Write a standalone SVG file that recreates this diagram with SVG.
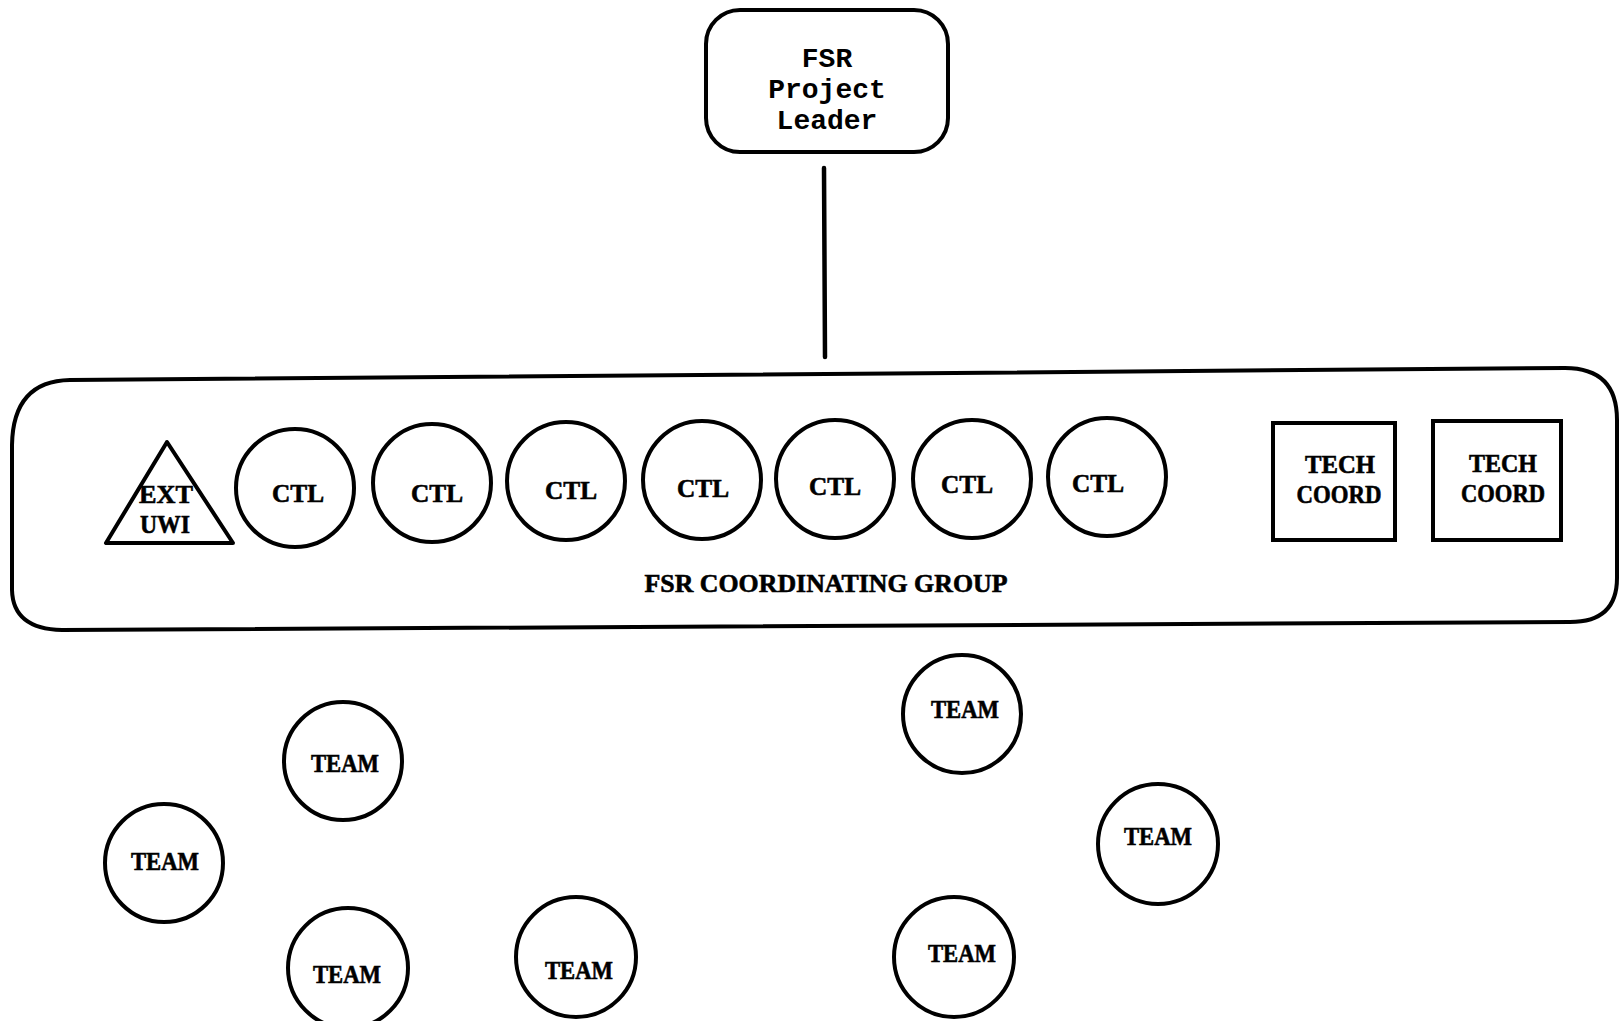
<svg xmlns="http://www.w3.org/2000/svg" width="1619" height="1021" viewBox="0 0 1619 1021">
<style>
.shape{fill:none;stroke:#000;stroke-width:4}
.mono{font-family:"Liberation Mono","Courier New",monospace;font-weight:bold;font-size:28px;fill:#000;text-anchor:middle}
.serif{font-family:"Liberation Serif","Times New Roman",serif;font-weight:bold;font-size:26px;fill:#000;stroke:#000;stroke-width:0.6;text-anchor:middle}
</style>
<rect width="1619" height="1021" fill="#fff"/>
<g id="connectors">
<line x1="824" y1="168" x2="825" y2="357" stroke="#000" stroke-width="4.5" stroke-linecap="round"/>
</g>
<g id="leader">
<rect class="shape" x="706" y="10" width="242" height="142" rx="34"/>
<text class="mono" x="827" y="67">FSR</text>
<text class="mono" x="827" y="98">Project</text>
<text class="mono" x="827" y="129">Leader</text>
</g>
<g id="coordinating-group">
<path class="shape" d="M70,380 L1565,368 Q1617,368 1617,420 L1617,578 Q1617,622 1570,622 L62,630 Q13,629 12,590 L12,445 Q13,381 70,380 Z"/>
<text class="serif" x="826" y="592" textLength="363" lengthAdjust="spacingAndGlyphs">FSR COORDINATING GROUP</text>
</g>
<g id="ext-uwi">
<polygon class="shape" points="167,442 106,543 233,543" stroke-linejoin="round"/>
<text class="serif" x="166" y="503" textLength="54" lengthAdjust="spacingAndGlyphs">EXT</text>
<text class="serif" x="165" y="533" textLength="50" lengthAdjust="spacingAndGlyphs">UWI</text>
</g>
<g id="ctl-1"><circle class="shape" cx="295" cy="488" r="59"/><text class="serif" x="298" y="502" textLength="52" lengthAdjust="spacingAndGlyphs">CTL</text></g>
<g id="ctl-2"><circle class="shape" cx="432" cy="483" r="59"/><text class="serif" x="437" y="502" textLength="52" lengthAdjust="spacingAndGlyphs">CTL</text></g>
<g id="ctl-3"><circle class="shape" cx="566" cy="481" r="59"/><text class="serif" x="571" y="499" textLength="52" lengthAdjust="spacingAndGlyphs">CTL</text></g>
<g id="ctl-4"><circle class="shape" cx="702" cy="480" r="59"/><text class="serif" x="703" y="497" textLength="52" lengthAdjust="spacingAndGlyphs">CTL</text></g>
<g id="ctl-5"><circle class="shape" cx="835" cy="479" r="59"/><text class="serif" x="835" y="495" textLength="52" lengthAdjust="spacingAndGlyphs">CTL</text></g>
<g id="ctl-6"><circle class="shape" cx="972" cy="479" r="59"/><text class="serif" x="967" y="493" textLength="52" lengthAdjust="spacingAndGlyphs">CTL</text></g>
<g id="ctl-7"><circle class="shape" cx="1107" cy="477" r="59"/><text class="serif" x="1098" y="492" textLength="52" lengthAdjust="spacingAndGlyphs">CTL</text></g>
<g id="tech-coord-1">
<rect class="shape" x="1273" y="423" width="122" height="117"/>
<text class="serif" x="1340" y="473" textLength="70" lengthAdjust="spacingAndGlyphs">TECH</text>
<text class="serif" x="1339" y="503" textLength="85" lengthAdjust="spacingAndGlyphs">COORD</text>
</g>
<g id="tech-coord-2">
<rect class="shape" x="1433" y="421" width="128" height="119"/>
<text class="serif" x="1503" y="472" textLength="68" lengthAdjust="spacingAndGlyphs">TECH</text>
<text class="serif" x="1503" y="502" textLength="84" lengthAdjust="spacingAndGlyphs">COORD</text>
</g>
<g id="team-1"><circle class="shape" cx="343" cy="761" r="59"/><text class="serif" x="345" y="772" textLength="68" lengthAdjust="spacingAndGlyphs">TEAM</text></g>
<g id="team-2"><circle class="shape" cx="164" cy="863" r="59"/><text class="serif" x="165" y="870" textLength="68" lengthAdjust="spacingAndGlyphs">TEAM</text></g>
<g id="team-3"><circle class="shape" cx="348" cy="968" r="60"/><text class="serif" x="347" y="983" textLength="68" lengthAdjust="spacingAndGlyphs">TEAM</text></g>
<g id="team-4"><circle class="shape" cx="576" cy="957" r="60"/><text class="serif" x="579" y="979" textLength="68" lengthAdjust="spacingAndGlyphs">TEAM</text></g>
<g id="team-5"><circle class="shape" cx="962" cy="714" r="59"/><text class="serif" x="965" y="718" textLength="68" lengthAdjust="spacingAndGlyphs">TEAM</text></g>
<g id="team-6"><circle class="shape" cx="1158" cy="844" r="60"/><text class="serif" x="1158" y="845" textLength="68" lengthAdjust="spacingAndGlyphs">TEAM</text></g>
<g id="team-7"><circle class="shape" cx="954" cy="957" r="60"/><text class="serif" x="962" y="962" textLength="68" lengthAdjust="spacingAndGlyphs">TEAM</text></g>
</svg>
